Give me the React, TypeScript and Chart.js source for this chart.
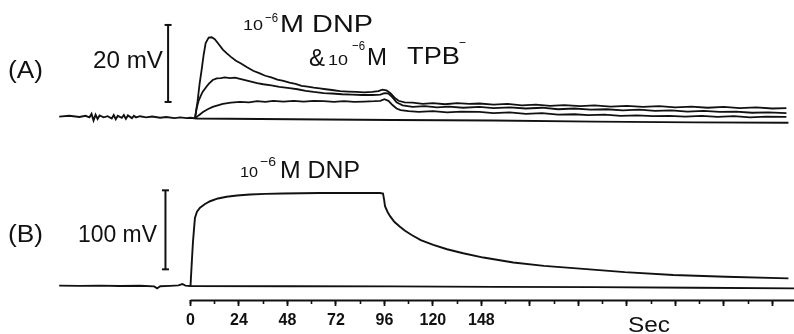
import React, { useEffect, useRef } from 'react';
import { Chart, registerables } from 'chart.js';

Chart.register(...registerables);

// ---- data (time in s, potential in mV) ----
// Panel A: three responses to 1e-6 M DNP & 1e-6 M TPB-, plus the control trace
const ctlA: [number, number][] = [
  [-65, 0.5], [-60, 0.7], [-55, 0.4], [-52, 0.7], [-50, 0.3], [-49, 1.2], [-48, -0.5], [-47, 1.0],
  [-46, -0.1], [-45, 0.8], [-43, 0.3], [-41, 0.6], [-39, 0.0], [-38, 0.9], [-37, -0.2], [-36, 0.7],
  [-34, 0.2], [-33, 0.9], [-32, -0.1], [-31, 0.8], [-29, 0.1], [-28, 0.7], [-27, 0.3], [-25, 0.6],
  [-22, 0.3], [-19, 0.5], [-15, 0.2], [-12, 0.4], [-8, 0.1], [-5, 0.3], [-2, 0.1], [0, 0.2], [3, 0],
  [50, -0.2], [100, -0.4], [150, -0.5], [200, -0.8], [250, -1.0], [296, -1.1],
];
const respA1: [number, number][] = [
  [2.2, 0], [3.5, 4.5], [4.5, 9], [5.5, 12.6], [6.5, 16.5], [7.5, 19.6], [9, 21], [10.5, 21.1], [12, 20.6],
  [14, 19.3], [16, 17.9], [18, 16.9], [20, 16], [22.5, 15], [25, 14.3], [28, 13.3], [31, 12.4], [34, 11.8],
  [37, 11.1], [40, 10.7], [43, 10.1], [46, 9.8], [49, 9.3], [52, 9.0], [55, 8.5], [58, 8.3], [61, 8.0],
  [64, 7.8], [67, 7.6], [70, 7.4], [74, 7.1], [78, 7.0], [82, 6.9], [86, 6.8], [90, 6.9], [93, 7.1],
  [95, 7.5], [97, 7.3], [99, 6.6], [101, 5.4], [103, 4.6], [106, 4.2], [110, 4.1], [115, 3.8], [120, 4.0],
  [126, 3.7], [132, 4.0], [138, 3.8], [143, 3.9], [150, 3.6], [157, 3.8], [164, 3.4], [171, 3.6], [178, 3.3],
  [185, 3.5], [193, 3.2], [200, 3.4], [208, 3.1], [216, 3.3], [224, 3.0], [232, 3.2], [240, 2.9], [248, 3.1],
  [256, 2.8], [264, 3.0], [272, 2.7], [280, 2.9], [288, 2.6], [295, 2.7],
];
const respA2: [number, number][] = [
  [2.2, 0], [3, 2.5], [4, 4.6], [5, 5.8], [6, 6.9], [7.5, 8], [9, 9], [11, 10], [13, 10.4], [15, 10.5],
  [17, 10.7], [19.6, 10.5], [22, 10.6], [24.5, 10.3], [27, 10.0], [30, 9.6], [33, 9.2], [36, 8.9], [40, 8.6],
  [44, 8.2], [49, 7.9], [53, 7.6], [57, 7.2], [61, 6.9], [66, 6.6], [70, 6.5], [75, 6.3], [80, 6.2], [85, 6.1],
  [90, 6.1], [94, 6.2], [96, 6.6], [98, 6.5], [100, 5.5], [102, 4.2], [105, 3.4], [110, 3.0], [116, 3.2],
  [122, 2.9], [128, 3.1], [135, 2.8], [143, 3.0], [150, 2.7], [158, 2.9], [166, 2.6], [174, 2.8], [182, 2.4],
  [190, 2.6], [198, 2.3], [206, 2.4], [214, 2.1], [222, 2.3], [230, 2.0], [238, 2.1], [246, 1.8], [254, 2.0],
  [262, 1.7], [270, 1.8], [278, 1.5], [286, 1.6], [295, 1.4],
];
const respA3: [number, number][] = [
  [2.2, 0], [4, 0.8], [6.2, 1.7], [8.5, 2.4], [11, 3.0], [13.5, 3.4], [16, 3.8], [20, 4.1], [24.5, 4.3],
  [29, 4.2], [33, 4.5], [37, 4.3], [41, 4.6], [46, 4.4], [51, 4.6], [56, 4.4], [61, 4.6], [66, 4.5], [71, 4.3],
  [76, 4.5], [81, 4.3], [86, 4.4], [91, 4.5], [94, 4.6], [96, 5.0], [98, 4.6], [100, 3.5], [102, 2.6],
  [104, 2.2], [108, 1.9], [113, 1.7], [120, 1.9], [127, 1.6], [134, 1.8], [143, 1.7], [150, 1.4], [158, 1.6],
  [166, 1.2], [174, 1.4], [182, 1.0], [190, 1.1], [197, 0.9], [205, 1.0], [213, 0.7], [221, 0.8], [229, 0.6],
  [237, 0.7], [245, 0.5], [253, 0.7], [261, 0.4], [269, 0.6], [277, 0.3], [285, 0.5], [295, 0.4],
];
// Panel B: response to 1e-6 M DNP, plus the control trace
const ctlB: [number, number][] = [
  [-65, 0.5], [-55, 0.2], [-45, 0.6], [-35, 0.0], [-25, 0.3], [-18, -0.5], [-16.5, -3.0], [-15, -0.3],
  [-10, 0.2], [-6, 0.8], [-4, 2.5], [-2.5, 0.5], [0, 0], [50, -0.3], [100, -0.5], [150, -1.0], [200, -1.5],
  [250, -2.2], [299, -2.9],
];
const respB: [number, number][] = [
  [0, 0], [0.7, 33], [1.2, 55], [1.7, 71], [2.2, 86], [3.2, 94], [4.7, 99], [7.2, 103.8], [9.7, 107.3],
  [13.6, 110.8], [17.9, 112.9], [23, 114.6], [29.5, 115.8], [37, 116.6], [45.8, 117.1], [55, 117.5],
  [64, 117.7], [75, 117.8], [85, 117.8], [93.8, 117.7], [95.3, 117.1], [95.8, 110], [96.3, 101], [97.5, 94],
  [98.8, 88.4], [101, 81], [103.7, 75], [106.2, 70], [109.5, 64.5], [114, 58], [120.2, 52], [127, 46.5],
  [135, 41.4], [145, 36], [159.8, 29.8], [175, 25.5], [192.8, 22], [215, 17.5], [239, 14], [265, 11.8],
  [296, 9.7],
];
// calibration bars
const SCALE_A_T = -11.1;
const SCALE_A_MV = [4.3, 24.3]; // 20 mV
const SCALE_B_T = -12.4;
const SCALE_B_MV = [21.1, 121.1]; // 100 mV
// time axis
const TIME_START = 0;
const TIME_END = 299;
const MINOR_STEP = 12;
const MAJOR_STEP = 24;
const TICK_LABELS: Record<number, string> = { 0: '0', 24: '24', 48: '48', 72: '72', 96: '96', 120: '120', 144: '148' };

// ---- scale ranges (layout) ----
const X_MIN = -94.31;
const X_MAX = 298.76;
const YA_MIN = -55.97;
const YA_MAX = 30.78;
const YB_MIN = -60.76;
const YB_MAX = 362.03;
const AXIS_MV = -18.35; // where the time axis sits on panel B's scale

const FONT = '"Liberation Sans", Arial, Helvetica, sans-serif';
const INK = '#111111';

const pts = (a: [number, number][]) => a.map(([x, y]) => ({ x, y }));

function txt(ctx: CanvasRenderingContext2D, s: string, x: number, y: number, size: number, w?: number) {
  ctx.font = `${size}px ${FONT}`;
  const m = ctx.measureText(s).width;
  ctx.save();
  ctx.translate(x, y);
  if (w) ctx.scale(w / m, 1);
  ctx.fillStyle = INK;
  ctx.textAlign = 'left';
  ctx.textBaseline = 'alphabetic';
  ctx.fillText(s, 0, 0);
  ctx.restore();
}

const textPlugin = {
  id: 'texts',
  afterDraw(chart: any) {
    const ctx = chart.ctx as CanvasRenderingContext2D;
    // panel A
    txt(ctx, '(A)', 8, 78, 23, 35);
    txt(ctx, '20 mV', 93, 68, 23, 70);
    txt(ctx, '10', 243, 30, 14, 20);
    txt(ctx, '\u22126', 265, 22, 13, 13);
    txt(ctx, 'M DNP', 280, 32, 23, 93);
    txt(ctx, '&', 309, 66, 23, 16);
    txt(ctx, '10', 328, 65, 14, 20);
    txt(ctx, '\u22126', 352, 50, 13, 13);
    txt(ctx, 'M', 367, 65, 23, 20);
    txt(ctx, 'TPB', 407, 64, 23, 53);
    txt(ctx, '\u2212', 459, 47, 13, 7);
    // panel B
    txt(ctx, '(B)', 8, 242, 23, 35);
    txt(ctx, '100 mV', 78, 242, 23, 79);
    txt(ctx, '10', 240, 177, 14, 18);
    txt(ctx, '\u22126', 260, 166, 13, 16);
    txt(ctx, 'M DNP', 280, 178, 23, 80);
    txt(ctx, 'Sec', 628, 332, 22, 42);
  },
};

export default function App() {
  const ref = useRef<HTMLCanvasElement | null>(null);
  useEffect(() => {
    document.body.style.margin = '0';
    document.body.style.overflow = 'hidden';
    const canvas = ref.current!;
    const line = (data: any[], yAxisID: string, width: number) => ({
      data,
      yAxisID,
      borderColor: INK,
      borderWidth: width,
      pointRadius: 0,
      tension: 0,
      fill: false,
    });
    const bar = (t: number, mv: number[], yAxisID: string) => ({
      data: mv.map((v) => ({ x: t, y: v })),
      yAxisID,
      borderColor: INK,
      borderWidth: 2,
      pointRadius: 3.5,
      pointStyle: 'line',
      pointBorderColor: INK,
      pointBorderWidth: 2,
      tension: 0,
      fill: false,
    });
    const tickColor = (step: number) => (c: any) =>
      c.tick && c.tick.value >= TIME_START && Math.abs(c.tick.value % step) < 1e-6 ? INK : 'rgba(0,0,0,0)';
    const chart = new Chart(canvas, {
      type: 'line',
      data: {
        datasets: [
          line(pts(ctlA), 'yA', 1.9),
          line(pts(respA3), 'yA', 1.8),
          line(pts(respA2), 'yA', 1.8),
          line(pts(respA1), 'yA', 1.8),
          line(pts(ctlB), 'yB', 1.8),
          line(pts(respB), 'yB', 1.9),
          bar(SCALE_A_T, SCALE_A_MV, 'yA'),
          bar(SCALE_B_T, SCALE_B_MV, 'yB'),
          line([{ x: TIME_START, y: AXIS_MV }, { x: TIME_END, y: AXIS_MV }], 'yB', 2),
        ] as any,
      },
      options: {
        responsive: false,
        devicePixelRatio: 1,
        animation: false,
        events: [],
        layout: { padding: 0, autoPadding: false },
        plugins: { legend: { display: false }, tooltip: { enabled: false }, title: { display: false } },
        scales: {
          x: {
            type: 'linear',
            min: X_MIN,
            max: X_MAX,
            position: { yB: AXIS_MV } as any,
            border: { display: false },
            grid: {
              display: true,
              drawOnChartArea: false,
              drawTicks: true,
              tickLength: 4,
              tickWidth: 1.6,
              tickColor: tickColor(MINOR_STEP),
            },
            ticks: { stepSize: MINOR_STEP, autoSkip: false, includeBounds: false, display: false, maxRotation: 0 },
          },
          x2: {
            type: 'linear',
            axis: 'x',
            min: X_MIN,
            max: X_MAX,
            position: { yB: AXIS_MV } as any,
            border: { display: false },
            grid: {
              display: true,
              drawOnChartArea: false,
              drawTicks: true,
              tickLength: 6,
              tickWidth: 1.8,
              tickColor: tickColor(MAJOR_STEP),
            },
            ticks: {
              stepSize: MAJOR_STEP,
              autoSkip: false,
              includeBounds: false,
              maxRotation: 0,
              minRotation: 0,
              padding: 4,
              color: INK,
              font: { size: 16, family: FONT, weight: 'bold' },
              callback: (v: any) => TICK_LABELS[v as number] ?? '',
            },
          },
          yA: { type: 'linear', display: false, min: YA_MIN, max: YA_MAX },
          yB: { type: 'linear', display: false, min: YB_MIN, max: YB_MAX },
        },
      },
      plugins: [textPlugin],
    });
    return () => chart.destroy();
  }, []);
  return (
    <div style={{ width: 794, height: 334, background: '#fff' }}>
      <canvas ref={ref} width={794} height={334} style={{ display: 'block' }} />
    </div>
  );
}
